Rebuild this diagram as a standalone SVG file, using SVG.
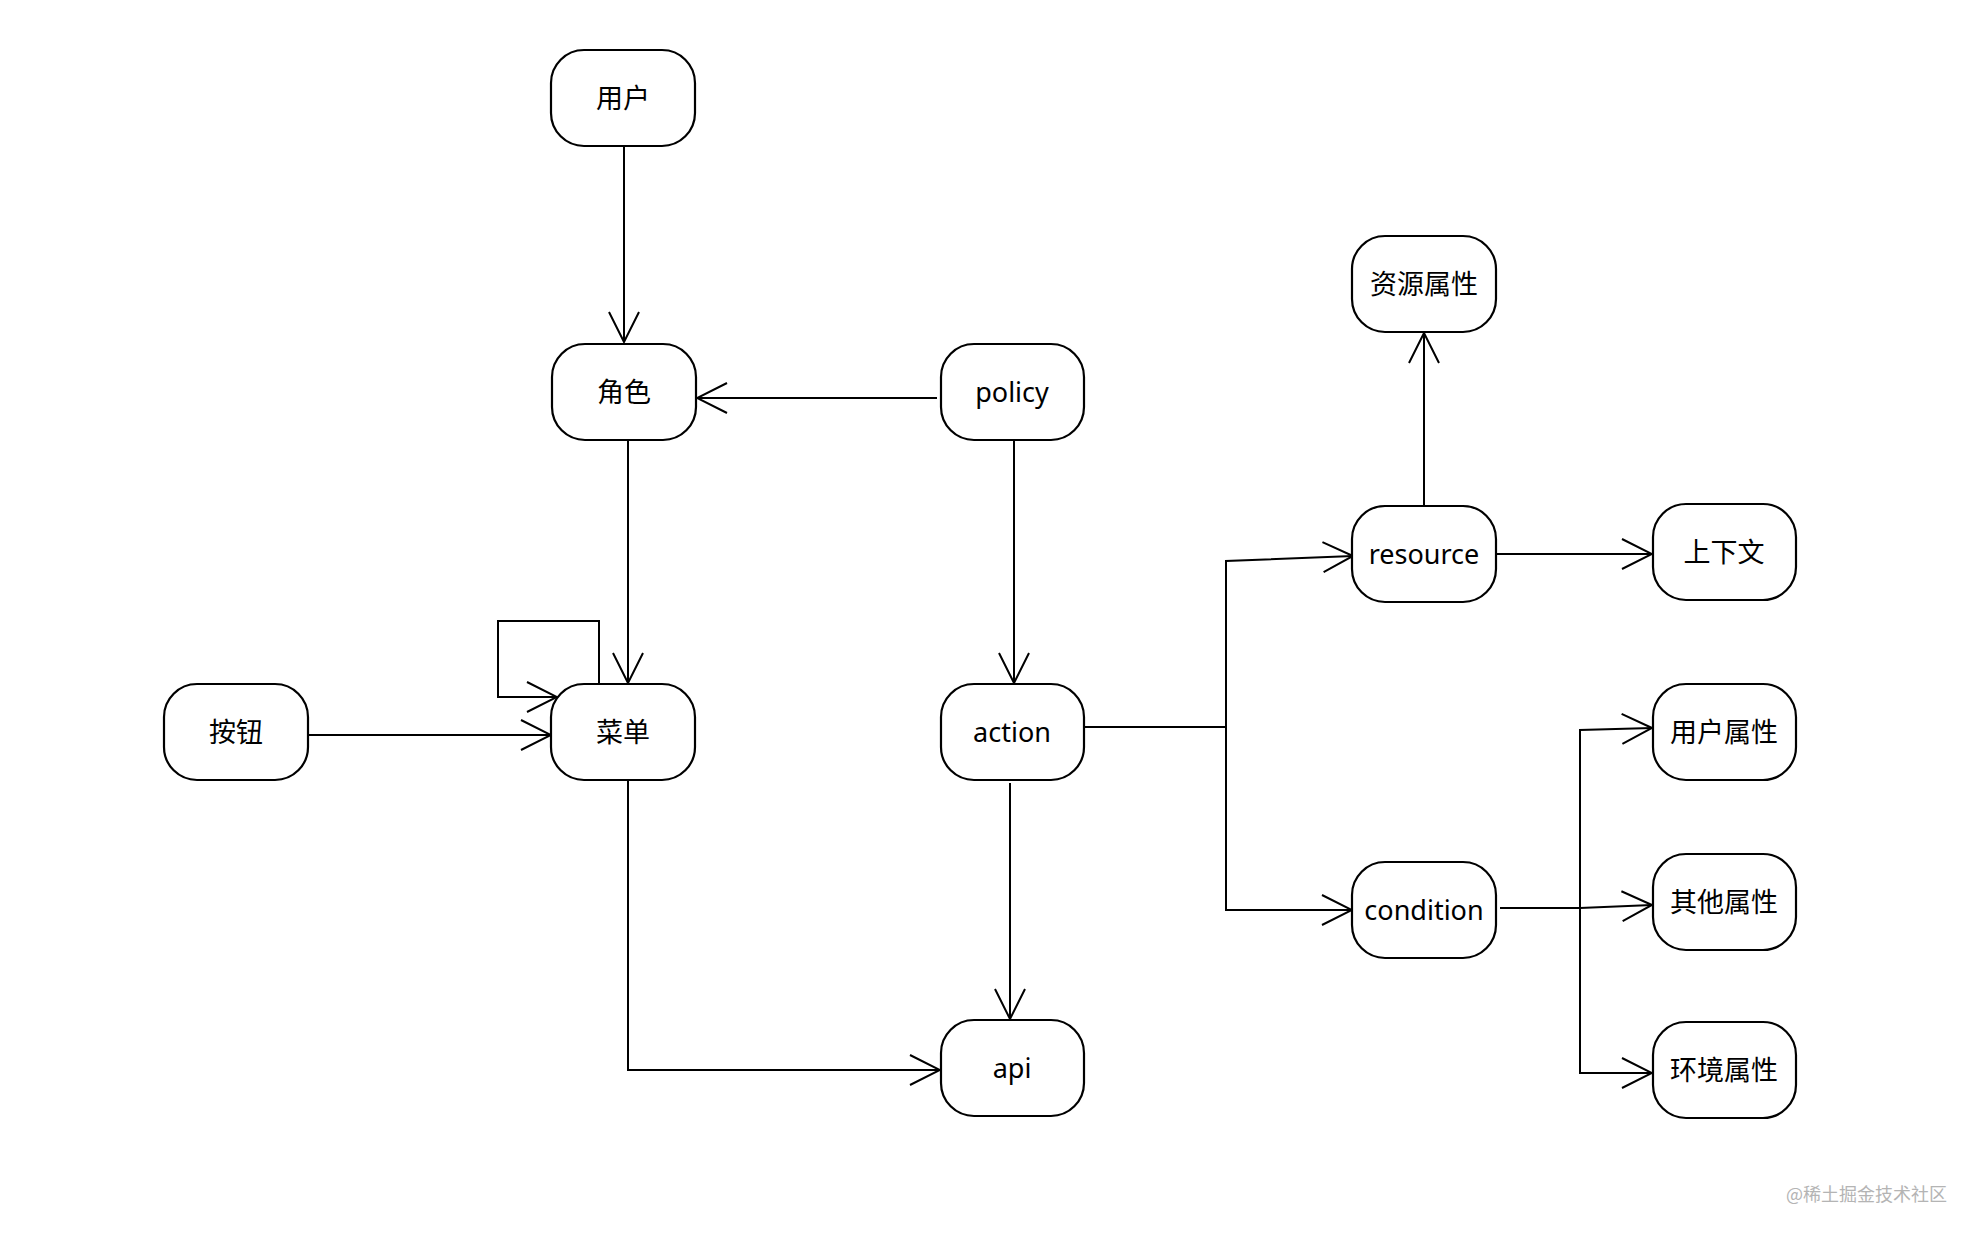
<svg xmlns="http://www.w3.org/2000/svg" width="1980" height="1236" viewBox="0 0 1980 1236">
<defs>
<style>
.node rect{fill:#fff;stroke:#000;stroke-width:2.2}
.node text{font-family:"Noto Sans","Noto Sans CJK SC",sans-serif;font-size:27px;fill:#000;text-anchor:middle}
.edge{fill:none;stroke:#000;stroke-width:2;marker-end:url(#arr)}
.wm{font-family:"Noto Sans CJK SC","Noto Sans",sans-serif;font-size:18px;fill:#b4b4b4}
</style>
<marker id="arr" viewBox="0 0 32 34" refX="31" refY="17" markerWidth="32" markerHeight="34" markerUnits="userSpaceOnUse" orient="auto">
<path d="M1,2 L31,17 L1,32" fill="none" stroke="#000" stroke-width="2"/>
</marker>
</defs>
<rect width="1980" height="1236" fill="#fff"/>
<g id="connectors">
<path class="edge" d="M624,147 V342"/>
<path class="edge" d="M937,398 H697"/>
<path class="edge" d="M628,441 V683"/>
<path class="edge" d="M1014,441 V683"/>
<path class="edge" d="M308,735 H551"/>
<path class="edge" d="M599,684 V621 H498 V697 H557"/>
<path class="edge" d="M628,780 V1070 H940"/>
<path class="edge" d="M1010,783 V1019"/>
<path class="edge" d="M1085,727 H1226 V561 L1353,556"/>
<path class="edge" d="M1085,727 H1226 V910 H1352"/>
<path class="edge" d="M1424,506 V333"/>
<path class="edge" d="M1497,554 H1652"/>
<path class="edge" d="M1500,908 H1580 V730 L1652,728"/>
<path class="edge" d="M1500,908 H1580 L1652,905"/>
<path class="edge" d="M1500,908 H1580 V1073 H1652"/>
</g>
<g id="n-user" class="node"><rect x="551" y="50" width="144" height="96" rx="33"/><text x="623" y="108">用户</text></g>
<g id="n-role" class="node"><rect x="552" y="344" width="144" height="96" rx="33"/><text x="624" y="402">角色</text></g>
<g id="n-policy" class="node"><rect x="941" y="344" width="143" height="96" rx="33"/><text x="1012" y="402">policy</text></g>
<g id="n-button" class="node"><rect x="164" y="684" width="144" height="96" rx="33"/><text x="236" y="742">按钮</text></g>
<g id="n-menu" class="node"><rect x="551" y="684" width="144" height="96" rx="33"/><text x="623" y="742">菜单</text></g>
<g id="n-action" class="node"><rect x="941" y="684" width="143" height="96" rx="33"/><text x="1012" y="742">action</text></g>
<g id="n-api" class="node"><rect x="941" y="1020" width="143" height="96" rx="33"/><text x="1012" y="1078">api</text></g>
<g id="n-resattr" class="node"><rect x="1352" y="236" width="144" height="96" rx="33"/><text x="1424" y="294">资源属性</text></g>
<g id="n-resource" class="node"><rect x="1352" y="506" width="144" height="96" rx="33"/><text x="1424" y="564">resource</text></g>
<g id="n-context" class="node"><rect x="1653" y="504" width="143" height="96" rx="33"/><text x="1724" y="562">上下文</text></g>
<g id="n-condition" class="node"><rect x="1352" y="862" width="144" height="96" rx="33"/><text x="1424" y="920">condition</text></g>
<g id="n-userattr" class="node"><rect x="1653" y="684" width="143" height="96" rx="33"/><text x="1724" y="742">用户属性</text></g>
<g id="n-otherattr" class="node"><rect x="1653" y="854" width="143" height="96" rx="33"/><text x="1724" y="912">其他属性</text></g>
<g id="n-envattr" class="node"><rect x="1653" y="1022" width="143" height="96" rx="33"/><text x="1724" y="1080">环境属性</text></g>
<text class="wm" x="1786" y="1201">@稀土掘金技术社区</text>
</svg>
